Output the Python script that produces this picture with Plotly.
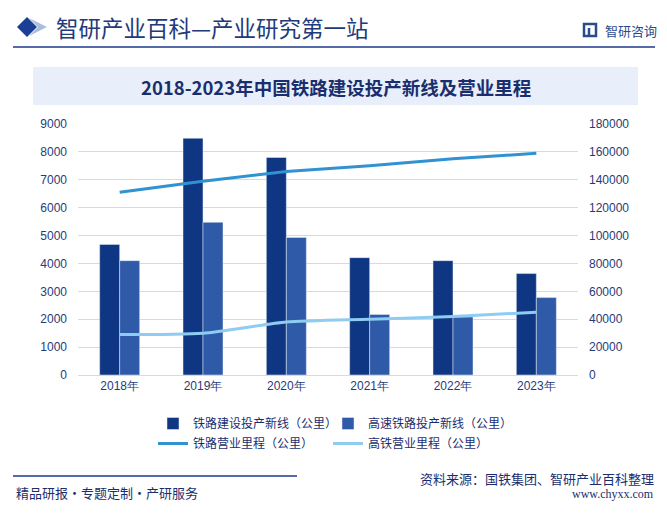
import plotly.graph_objects as go

years = ["2018年", "2019年", "2020年", "2021年", "2022年", "2023年"]
new_lines = [4683, 8489, 7800, 4208, 4100, 3637]
hsr_new_lines = [4100, 5474, 4933, 2168, 2082, 2776]
rail_mileage = [131000, 139000, 146000, 150000, 155000, 159000]
hsr_mileage = [29000, 30000, 38000, 40000, 42000, 45000]

left_ticks = list(range(0, 9001, 1000))
right_ticks = list(range(0, 180001, 20000))

# page has an 8px body margin; work in screen coordinates and shift
OFF = 8
SW, SH = 667, 514
W, H = SW - OFF, SH - OFF
SL, SR, ST, SB = 78, 578, 124, 375  # plot area in screen px
L, R, T, B = SL - OFF, SR - OFF, ST - OFF, SB - OFF

def px(x):
    return (x - SL) / (SR - SL)

def py(y):
    return (SB - y) / (SB - ST)

NAVY = "#1F3B7A"
TXT = "#1A2E6E"
CJK = "Noto Sans CJK SC"
NUM = "Liberation Sans, Arial, sans-serif"

fig = go.Figure()
fig.add_bar(x=years, y=new_lines, name="铁路建设投产新线（公里）",
            marker_color="#0F3682", legend="legend")
fig.add_bar(x=years, y=hsr_new_lines, name="高速铁路投产新线（公里）",
            marker_color="#2F5AA7", legend="legend2")
fig.add_scatter(x=years, y=rail_mileage, name="铁路营业里程（公里）", yaxis="y2",
                mode="lines", line=dict(color="#3192D1", width=3), legend="legend3")
fig.add_scatter(x=years, y=hsr_mileage, name="高铁营业里程（公里）", yaxis="y2",
                mode="lines", line=dict(color="#8ECCF1", width=3, shape="spline", smoothing=0.6),
                legend="legend4")

shapes = []
shapes.append(dict(type="line", xref="paper", yref="paper", x0=px(13), x1=px(655),
                   y0=py(47), y1=py(47), line=dict(color="#1B3A8A", width=1.5)))
shapes.append(dict(type="path", xref="paper", yref="paper",
                   path=f"M {px(29)} {py(18)} L {px(38)} {py(27)} L {px(29)} {py(36)} L {px(47)} {py(27)} Z",
                   fillcolor="#A9BDE0", line=dict(width=0)))
shapes.append(dict(type="path", xref="paper", yref="paper",
                   path=f"M {px(17)} {py(27)} L {px(27)} {py(17)} L {px(37)} {py(27)} L {px(27)} {py(37)} Z",
                   fillcolor="#1B3F94", line=dict(width=0)))
shapes.append(dict(type="rect", xref="paper", yref="paper", x0=px(33), x1=px(638),
                   y0=py(105), y1=py(67), fillcolor="#E8EFFA", line=dict(width=0), layer="below"))
shapes.append(dict(type="rect", xref="paper", yref="paper", x0=px(584), x1=px(596),
                   y0=py(36), y1=py(24), fillcolor="rgba(0,0,0,0)", line=dict(color="#2B4C8C", width=2.5)))
shapes.append(dict(type="line", xref="paper", yref="paper", x0=px(589), x1=px(589),
                   y0=py(36), y1=py(28), line=dict(color="#2B4C8C", width=2.5)))
shapes.append(dict(type="line", xref="paper", yref="paper", x0=px(13), x1=px(297),
                   y0=py(476), y1=py(476), line=dict(color="#1B3A8A", width=1.5)))

ann = []
ann.append(dict(text="智研产业百科—产业研究第一站", x=px(54), y=py(27), xref="paper", yref="paper",
                xanchor="left", yanchor="middle", showarrow=False,
                font=dict(family=CJK, size=22.5, color="#22397A")))
ann.append(dict(text="智研咨询", x=px(603), y=py(30), xref="paper", yref="paper",
                xanchor="left", yanchor="middle", showarrow=False,
                font=dict(family=CJK, size=13, color="#2B4C8C")))
ann.append(dict(text="<b>2018-2023年中国铁路建设投产新线及营业里程</b>", x=px(336), y=py(87),
                xref="paper", yref="paper", xanchor="center", yanchor="middle", showarrow=False,
                font=dict(family=CJK, size=18.5, color=TXT)))
ann.append(dict(text="精品研报・专题定制・产研服务", x=px(14), y=py(492), xref="paper", yref="paper",
                xanchor="left", yanchor="middle", showarrow=False,
                font=dict(family=CJK, size=13, color=TXT)))
ann.append(dict(text="资料来源：国铁集团、智研产业百科整理", x=px(656), y=py(478), xref="paper", yref="paper",
                xanchor="right", yanchor="middle", showarrow=False,
                font=dict(family=CJK, size=13, color=TXT)))
ann.append(dict(text="www.chyxx.com", x=px(656), y=py(494), xref="paper", yref="paper",
                xanchor="right", yanchor="middle", showarrow=False,
                font=dict(family="Liberation Serif, serif", size=12, color=TXT)))

def leg(sx, sy):
    return dict(orientation="h", xref="container", yref="container",
                x=(sx - OFF) / W, y=1 - (sy - OFF) / H,
                xanchor="left", yanchor="top", itemwidth=30,
                font=dict(family=CJK, size=12, color=TXT), bgcolor="rgba(0,0,0,0)")

fig.update_layout(
    width=W, height=H,
    margin=dict(l=L, r=W - R, t=T, b=H - B, pad=0),
    paper_bgcolor="white", plot_bgcolor="white",
    barmode="group", bargap=0.52, bargroupgap=0,
    shapes=shapes, annotations=ann,
    xaxis=dict(tickfont=dict(family=NUM, size=12, color=NAVY), showgrid=False,
               showline=True, linecolor="#D9D9D9", linewidth=1, ticks=""),
    yaxis=dict(range=[0, 9000], tickvals=left_ticks, tickformat="d",
               tickfont=dict(family=NUM, size=12, color=NAVY),
               showgrid=True, gridcolor="#D9D9D9", gridwidth=1, zeroline=False, ticks="",
               ticklabelstandoff=10),
    yaxis2=dict(range=[0, 180000], tickvals=right_ticks, tickformat="d", overlaying="y", side="right",
                tickfont=dict(family=NUM, size=12, color=NAVY), showgrid=False, zeroline=False,
                ticks="", ticklabelstandoff=10),
    legend=leg(153, 409),
    legend2=leg(328, 409),
    legend3=leg(153, 429),
    legend4=leg(328, 429),
    showlegend=True,
)

fig.write_html("out.html")
